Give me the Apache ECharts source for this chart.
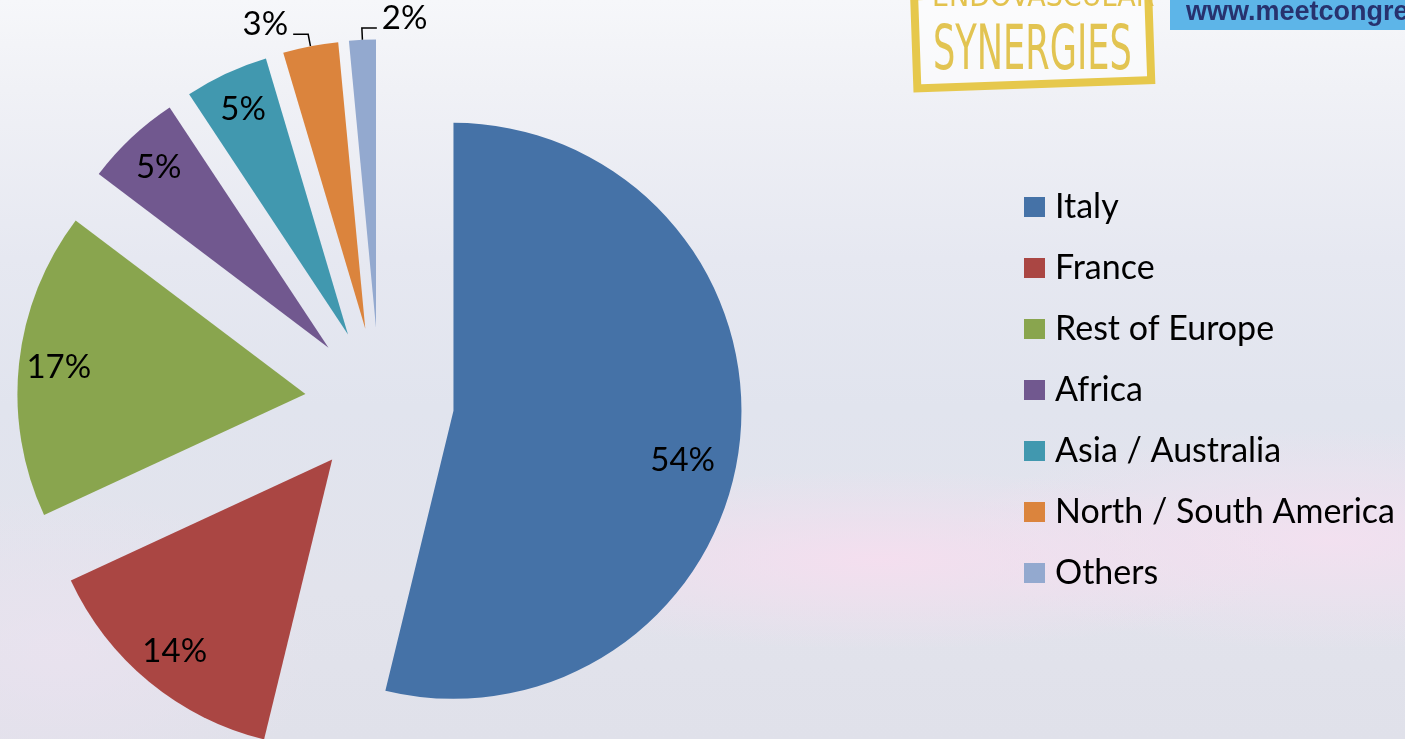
<!DOCTYPE html>
<html>
<head>
<meta charset="utf-8">
<script src="https://cdn.jsdelivr.net/npm/echarts@6/dist/echarts.min.js"></script>
<style>
html,body{margin:0;padding:0;width:1405px;height:739px;overflow:hidden;}
body{background:
 radial-gradient(ellipse 420px 90px at 880px 560px, rgba(246,222,239,0.9), rgba(246,222,239,0) 100%),
 radial-gradient(ellipse 380px 110px at 1330px 540px, rgba(244,224,240,0.9), rgba(244,224,240,0) 100%),
 radial-gradient(ellipse 260px 160px at 60px 650px, rgba(236,226,240,0.7), rgba(236,226,240,0) 100%),
 linear-gradient(180deg, #f6f7fa 0%, #f0f1f6 12%, #e6e8f1 35%, #e1e4ee 55%, #e2e3ec 80%, #e0e1ea 100%);}
#chart{width:1405px;height:739px;}
</style>
</head>
<body>
<div id="chart"></div>
<script>
var categories = ['Italy', 'France', 'Rest of Europe', 'Africa', 'Asia / Australia', 'North / South America', 'Others'];
var values = [53.8, 14.3, 17.2, 5.4, 4.7, 3.1, 1.5];
var colors = ['#4572A7', '#AA4643', '#89A54E', '#71588F', '#4198AF', '#DB843D', '#93A9CF'];
var outsideLabelled = [false, false, false, false, false, true, true];

var FONT = 'Lato, "Open Sans", sans-serif';

var mainData = categories.map(function (c, i) {
  return {
    name: c, value: values[i], selected: true,
    itemStyle: { color: colors[i] },
    label: { show: outsideLabelled[i] },
    labelLine: { show: outsideLabelled[i] }
  };
});
var overlayData = categories.map(function (c, i) {
  return {
    name: c, value: values[i], selected: true,
    label: { show: !outsideLabelled[i] }
  };
});

var LABEL_GAP = 5;
var LABEL_RAISE = -10;

var chart = echarts.init(document.getElementById('chart'), null, { renderer: 'canvas' });
chart.setOption({
  animation: false,
  backgroundColor: 'transparent',
  color: colors,
  legend: {
    orient: 'vertical',
    left: 1024,
    top: 190,
    padding: 0,
    itemWidth: 21,
    itemHeight: 20,
    itemGap: 27,
    icon: 'rect',
    selectedMode: false,
    textStyle: { fontFamily: FONT, fontSize: 34, color: '#000', lineHeight: 34, padding: [0, 0, 0, 5] },
    data: categories
  },
  graphic: [
    { type: 'text', left: 932, top: -17, z: 2,
      style: { text: 'ENDOVASCULAR', fill: '#e3c24e', font: '30px "Liberation Sans Narrow", "DejaVu Sans Condensed", sans-serif' } },
    { type: 'group', left: 910, top: -16, rotation: 0.035, z: 1, children: [
      { type: 'rect', shape: { x: 4, y: 4, width: 234, height: 92 },
        style: { fill: 'rgba(255,255,255,0.55)', stroke: '#e6c84c', lineWidth: 8 } }
    ]},
    { type: 'text', x: 933, y: 22, scaleX: 0.63, z: 3,
      style: { text: 'SYNERGIES', fill: '#e2c452', font: '62px "Liberation Sans Narrow", "DejaVu Sans Condensed", sans-serif' } },
    { type: 'rect', left: 1170, top: -2, shape: { width: 240, height: 32 },
      style: { fill: '#5db5e8' }, z: 1 },
    { type: 'text', x: 1186, y: 13, z: 2,
      style: { text: 'www.meetcongress.com', fill: '#27326e', font: 'bold 27px "Liberation Sans", Arial, sans-serif', verticalAlign: 'middle' } }
  ],
  series: [
    {
      type: 'pie',
      center: [379.5, 402],
      radius: [0, 288],
      startAngle: 90,
      clockwise: true,
      selectedMode: 'multiple',
      selectedOffset: 74.5,
      avoidLabelOverlap: false,
      percentPrecision: 0,
      silent: true,
      label: {
        position: 'outside',
        formatter: '{d}%',
        fontFamily: FONT, fontSize: 33, color: '#000',
        distanceToLabelLine: LABEL_GAP
      },
      labelLine: {
        length: 12, length2: 15, smooth: false,
        lineStyle: { color: '#000', width: 1.5 }
      },
      labelLayout: function (p) {
        if (!p.labelLinePoints) return {};
        var pts = p.labelLinePoints;
        if (p.dataIndex === 6) {
          var p1 = pts[1], p2 = pts[2];
          var n2 = [p1[0] + (p1[0] - p2[0]), p2[1]];
          return {
            labelLinePoints: [pts[0], p1, n2],
            align: 'left',
            dx: (n2[0] - p2[0]) + 2 * LABEL_GAP,
            dy: LABEL_RAISE
          };
        }
        return { labelLinePoints: pts, dy: LABEL_RAISE };
      },
      itemStyle: { borderWidth: 0 },
      emphasis: { disabled: true },
      data: mainData
    },
    {
      type: 'pie',
      center: [379.5, 402],
      radius: [202, 288],
      startAngle: 90,
      clockwise: true,
      selectedMode: 'multiple',
      selectedOffset: 74.5,
      avoidLabelOverlap: false,
      percentPrecision: 0,
      silent: true,
      itemStyle: { color: 'rgba(0,0,0,0)', borderWidth: 0 },
      label: {
        position: 'inside',
        formatter: '{d}%',
        fontFamily: FONT, fontSize: 33, color: '#000'
      },
      labelLayout: function (p) {
        return p.dataIndex === 0 ? { dx: -17, dy: 20 } : {};
      },
      labelLine: { show: false },
      emphasis: { disabled: true },
      data: overlayData
    }
  ]
});
</script>
</body>
</html>
